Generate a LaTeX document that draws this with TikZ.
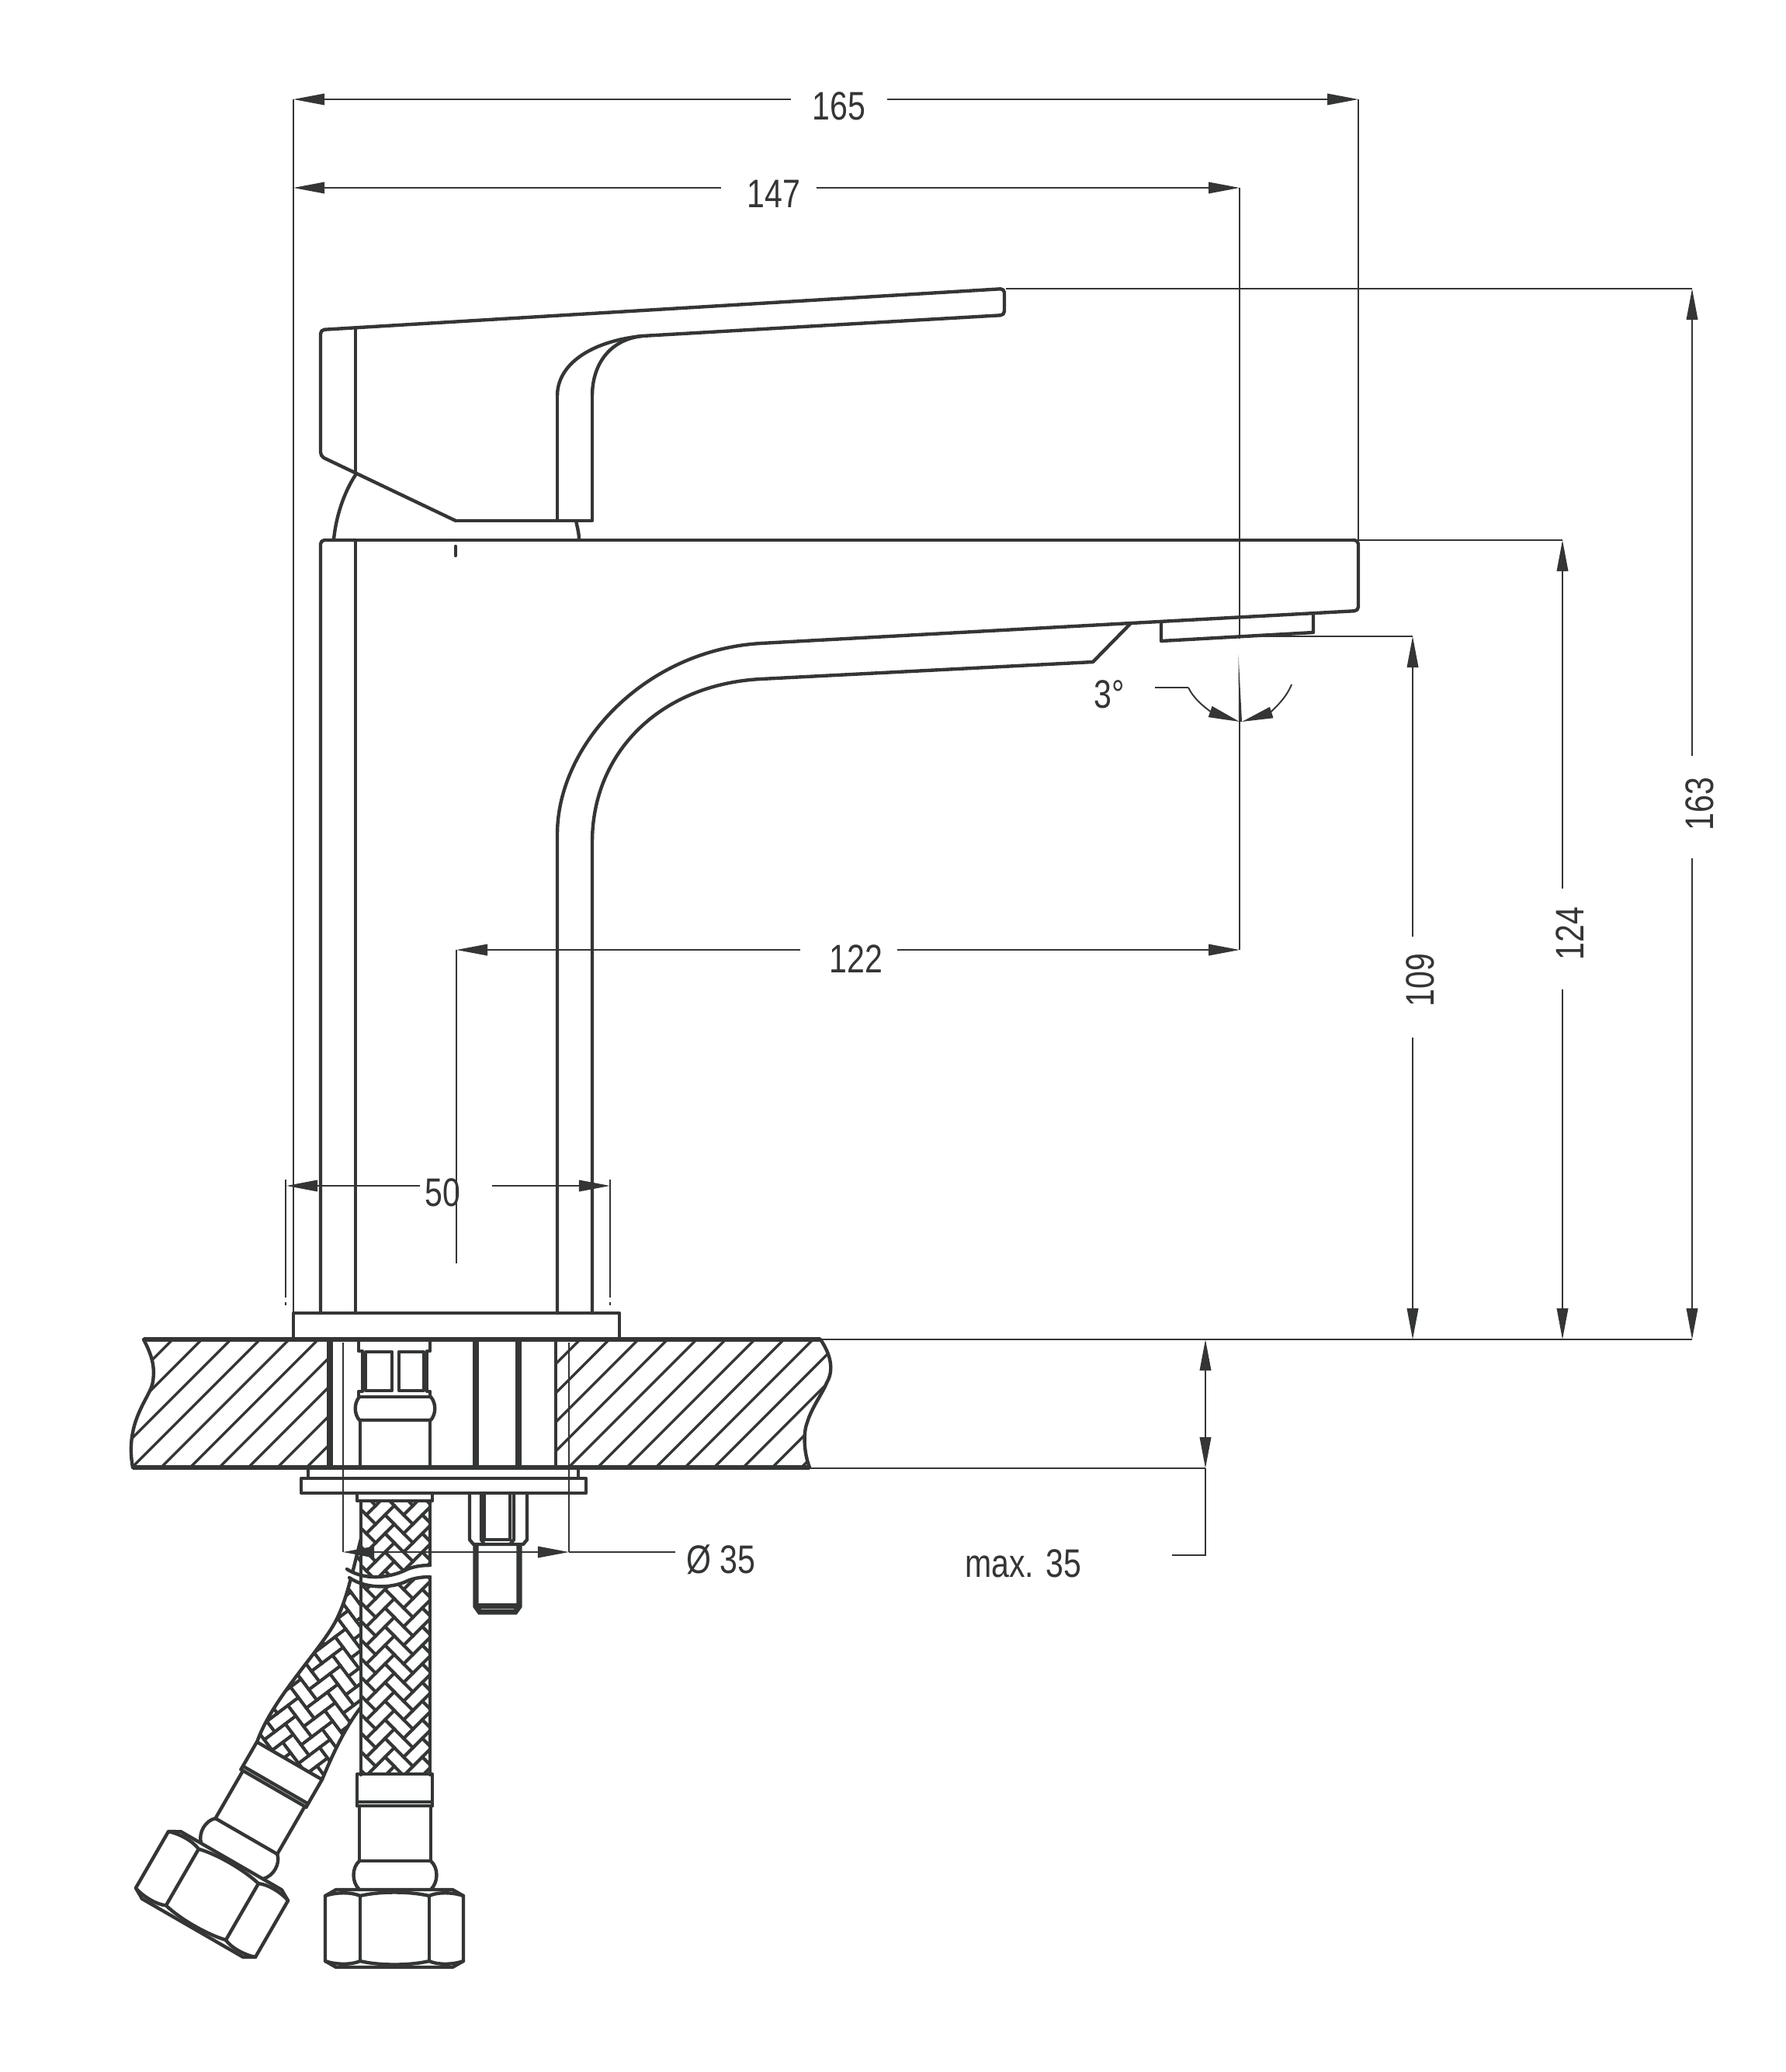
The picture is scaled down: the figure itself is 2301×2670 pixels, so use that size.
\documentclass[tikz,border=0pt]{standalone}
\usepackage{fontspec}
\setmainfont[FakeStretch=0.8]{Liberation Sans}
\usepackage{tikz}
\usetikzlibrary{arrows.meta}
\definecolor{ink}{HTML}{333635}
\tikzset{
  dimtip/.tip={Triangle[length=4mm,width=1.45mm]},
  bodyline/.style={line width=1.25pt,line join=round,line cap=round},
  heavyline/.style={line width=1.6pt,line join=round},
  studline/.style={line width=2pt},
  hatchline/.style={line width=0.95pt},
  braidline/.style={line width=1.1pt},
  dimline/.style={line width=0.55pt},
  dimlabel/.style={font=\fontsize{14.6}{16}\selectfont,inner xsep=0.27cm,inner ysep=0pt}
}
\newcommand{\hosebraid}[2]{
  \foreach \i in {-3,...,3}
    \foreach \j in {-10,...,10}{
      \draw[braidline,shift={({#1+48*\i},{#2+24*\j})},rotate=45] (-17,-8.5) rectangle (17,8.5);
      \draw[braidline,shift={({#1+48*\i+24},{#2+24*\j-12})},rotate=-45] (-17,-8.5) rectangle (17,8.5);
    }
}
\newcommand{\hosefitting}{
  \draw[bodyline] (-48,-199) rectangle (49,-163);
  \draw[bodyline] (-48,-158) -- (49,-158);
  \draw[bodyline] (-48,-163) -- (-48,-158) (49,-163) -- (49,-158);
  \draw[bodyline] (-45,-158) -- (-45,-87) (47,-158) -- (47,-87);
  \draw[bodyline] (-45,-87) -- (47,-87);
  \draw[bodyline] (-45,-87) .. controls (-55,-78) and (-55,-60) .. (-45,-50);
  \draw[bodyline] (47,-87) .. controls (57,-78) and (57,-60) .. (47,-50);
  \draw[bodyline,fill=white] (-89,-42) -- (-75,-50) -- (75,-50) -- (89,-42) -- (89,42) -- (75,50) -- (-75,50) -- (-89,42) -- cycle;
  \draw[bodyline] (-44,-42) -- (-44,42) (45,-42) -- (45,42);
  \draw[bodyline] (-44,-42) .. controls (-20,-48) and (20,-48) .. (45,-42);
  \draw[bodyline] (-44,42) .. controls (-20,48) and (20,48) .. (45,42);
  \draw[bodyline] (-89,-42) .. controls (-75,-47) and (-55,-47) .. (-44,-42);
  \draw[bodyline] (45,-42) .. controls (55,-47) and (75,-47) .. (89,-42);
  \draw[bodyline] (-89,42) .. controls (-75,47) and (-55,47) .. (-44,42);
  \draw[bodyline] (45,42) .. controls (55,47) and (75,47) .. (89,42);
}
\begin{document}
\begin{tikzpicture}[x=0.01cm,y=-0.01cm,color=ink]
\useasboundingbox (0,0) rectangle (2301,2670);

\draw[bodyline,rounded corners=0.05cm] (458,696) -- (413,696) -- (413,1692);
\draw[bodyline] (458,696) -- (1743,696);
\draw[bodyline,rounded corners=0.05cm] (1743,696) -- (1750,696) -- (1750,787) -- (1457,803) -- (980,829);
\draw[bodyline] (980,829) .. controls (830,838) and (718,960) .. (718,1075) -- (718,1692);
\draw[bodyline] (1457,803) -- (1408,853) -- (980,875);
\draw[bodyline] (980,875) .. controls (850,882) and (763,970) .. (763,1085) -- (763,1692);
\draw[bodyline] (458,696) -- (458,1692);
\draw[bodyline] (1496,803) -- (1496,826) -- (1692,815) -- (1692,793);
\draw[bodyline] (587,704) -- (587,716);

\draw[bodyline,rounded corners=0.05cm] (827,433) -- (1294,406) -- (1294,372) -- (413,425) -- (413,588) -- (587,671);
\draw[bodyline] (587,671) -- (763,671) -- (763,510);
\draw[bodyline] (763,510) .. controls (763,470) and (785,438) .. (827,433);
\draw[bodyline] (718,671) -- (718,510);
\draw[bodyline] (718,510) .. controls (718,470) and (760,440) .. (827,433);
\draw[bodyline] (458,423) -- (458,610);
\draw[bodyline] (458,612) .. controls (443,635) and (433,665) .. (430,695);
\draw[bodyline] (742,671) .. controls (744,680) and (746,688) .. (746,695);

\draw[bodyline] (378,1692) rectangle (798,1726);

\begin{scope}
\clip (185,1726) .. controls (195,1745) and (200,1760) .. (197,1780) .. controls (195,1800) and (160,1830) .. (171,1891) -- (423,1891) -- (423,1726) -- cycle
      (716,1726) -- (716,1891) -- (1043,1891) .. controls (1035,1870) and (1035,1845) .. (1040,1833) .. controls (1045,1815) and (1060,1795) .. (1065,1782) .. controls (1075,1765) and (1070,1745) .. (1057,1726) -- cycle;
\foreach \k in {-5,...,25}
  \draw[hatchline] ({170+37.5*\k},1891) -- ({335+37.5*\k},1726);
\end{scope}
\draw[heavyline] (1057,1726) -- (185,1726);
\draw[heavyline] (171,1891) -- (1043,1891);
\draw[bodyline] (185,1726) .. controls (195,1745) and (200,1760) .. (197,1780) .. controls (195,1800) and (160,1830) .. (171,1891);
\draw[bodyline] (1043,1891) .. controls (1035,1870) and (1035,1845) .. (1040,1833) .. controls (1045,1815) and (1060,1795) .. (1065,1782) .. controls (1075,1765) and (1070,1745) .. (1057,1726);
\draw[studline] (425,1726) -- (425,1891);
\draw[bodyline] (716,1726) -- (716,1891);

\draw[bodyline] (462,1726) -- (462,1741) -- (467,1741) -- (467,1793) -- (462,1793) -- (462,1800) -- (554,1800) -- (554,1793) -- (550,1793) -- (550,1741) -- (554,1741) -- (554,1726);
\draw[bodyline] (471,1742) rectangle (505,1792);
\draw[bodyline] (514,1742) rectangle (546,1792);
\draw[bodyline] (463,1800) .. controls (456,1808) and (456,1822) .. (463,1830) -- (555,1830) .. controls (562,1822) and (562,1808) .. (555,1800);
\draw[bodyline] (464,1830) -- (464,1891) (554,1830) -- (554,1891);
\draw[studline] (613,1726) -- (613,1891);
\draw[studline] (668,1726) -- (668,1891);

\draw[bodyline] (397,1891) rectangle (745,1905);
\draw[bodyline] (388,1905) rectangle (755,1924);

\draw[bodyline] (605,1924) -- (605,1984) -- (610,1990) -- (674,1990) -- (679,1984) -- (679,1924);
\draw[bodyline] (620,1924) -- (620,1984) -- (624,1990) (662,1924) -- (662,1984) -- (657,1990);
\draw[bodyline] (624,1924) -- (624,1984) -- (657,1984) -- (657,1924);
\draw[studline] (613,1990) -- (613,2070) -- (618,2077) -- (664,2077) -- (669,2070) -- (669,1990);
\draw[studline] (613,2069) -- (669,2069);

\begin{scope}[shift={(273,2441)},rotate=-30]
\hosefitting
\end{scope}
\begin{scope}[shift={(508,2485)}]
\hosefitting
\end{scope}

\begin{scope}
\clip (331,2245) .. controls (350,2190) and (410,2130) .. (432,2090) .. controls (445,2065) and (450,2040) .. (454,2027) -- (465,1983) -- (465,2200) .. controls (445,2225) and (428,2262) .. (415,2293) -- cycle;
\begin{scope}[rotate around={-8:(420,2150)}]
\hosebraid{420}{2150}
\end{scope}
\end{scope}
\draw[bodyline] (331,2245) .. controls (350,2190) and (410,2130) .. (432,2090) .. controls (445,2065) and (450,2040) .. (454,2027) -- (465,1983);
\draw[bodyline] (465,2200) .. controls (445,2225) and (428,2262) .. (415,2293);

\begin{scope}
\clip (465,1934) rectangle (554,2287);
\hosebraid{490}{2090}
\end{scope}
\fill[white] (447,2022) .. controls (475,2040) and (510,2030) .. (525,2022) .. controls (535,2018) and (545,2017) .. (556,2017) -- (556,2032) .. controls (545,2032) and (535,2033) .. (525,2037) .. controls (510,2045) and (475,2050) .. (450,2033) -- cycle;
\draw[bodyline] (447,2022) .. controls (475,2040) and (510,2030) .. (525,2022) .. controls (535,2018) and (545,2017) .. (554,2017);
\draw[bodyline] (450,2033) .. controls (475,2050) and (510,2045) .. (525,2037) .. controls (535,2033) and (545,2032) .. (554,2032);
\draw[bodyline] (465,1934) -- (465,2287);
\draw[bodyline] (554,1934) -- (554,2017) (554,2032) -- (554,2287);
\draw[bodyline] (460,1924) -- (460,1934) -- (557,1934) -- (557,1924);

\coordinate (topL) at (378,128);
\coordinate (topR) at (1750,128);
\coordinate (midL) at (378,242);
\coordinate (midR) at (1597,242);
\coordinate (spL) at (588,1224);
\coordinate (spR) at (1597,1224);
\coordinate (baseL) at (369,1528);
\coordinate (baseR) at (786,1528);
\coordinate (holeL) at (442,2000);
\coordinate (holeR) at (733,2000);
\coordinate (tipT) at (2180,372);
\coordinate (tipB) at (2180,1726);
\coordinate (bodyT) at (2013,696);
\coordinate (bodyB) at (2013,1726);
\coordinate (jetT) at (1820,820);
\coordinate (jetB) at (1820,1726);
\coordinate (deckT) at (1553,1726);
\coordinate (deckB) at (1553,1892);
\coordinate (deckE) at (1553,2004);
\coordinate (arcS) at (1488,886);
\coordinate (arcM) at (1531,886);

\node[dimlabel] (l165) at (1081,137) {165};
\node[dimlabel,inner xsep=0.195cm] (l147) at (990,250) {\kern0.14cm 147};
\node[dimlabel,inner xsep=0.18cm] (l122) at (1093.5,1236) {\kern0.19cm 122};
\node[dimlabel,inner xsep=0.055cm] (l50) at (587.5,1537) {50\kern0.34cm};
\node[dimlabel,inner xsep=0.14cm] (lhole) at (929,2010) {Ø 35};
\node[dimlabel,rotate=90] (l163) at (2190,1040) {\kern0.08cm 163};
\node[dimlabel,rotate=90,inner xsep=0.23cm] (l124) at (2023,1210) {\kern0.14cm 124};
\node[dimlabel,rotate=90,inner xsep=0.215cm] (l109) at (1830,1272) {\kern0.18cm 109};
\node[dimlabel] (lmax) at (1318,2015) {max. 35};
\node[dimlabel,inner xsep=0pt] (l3) at (1429,895) {3°};

\draw[dimline,-dimtip] (topL -| l165.west) -- (topL);
\draw[dimline,-dimtip] (topL -| l165.east) -- (topR);
\draw[dimline,-dimtip] (midL -| l147.west) -- (midL);
\draw[dimline,-dimtip] (midL -| l147.east) -- (midR);
\draw[dimline,-dimtip] (spL -| l122.west) -- (spL);
\draw[dimline,-dimtip] (spL -| l122.east) -- (spR);
\draw[dimline,-dimtip] (baseL -| l50.west) -- (baseL);
\draw[dimline,-dimtip] (baseL -| l50.east) -- (baseR);
\draw[dimline,dimtip-dimtip] (holeL) -- (holeR);
\draw[dimline] (holeR) -- (holeR -| lhole.west);
\draw[dimline,-dimtip] (tipT |- l163.east) -- (tipT);
\draw[dimline,-dimtip] (tipT |- l163.west) -- (tipB);
\draw[dimline,-dimtip] (bodyT |- l124.east) -- (bodyT);
\draw[dimline,-dimtip] (bodyT |- l124.west) -- (bodyB);
\draw[dimline,-dimtip] (jetT |- l109.east) -- (jetT);
\draw[dimline,-dimtip] (jetT |- l109.west) -- (jetB);
\draw[dimline,dimtip-dimtip] (deckT) -- (deckB);
\draw[dimline] (deckB) -- (deckE) -- (1510,2004);

\draw[dimline] (topL) -- (378,1692);
\draw[dimline] (topR) -- (1750,696);
\draw[dimline] (midR) -- (1597,823);
\draw[dimline] (1597,930) -- (spR);
\draw[dimline] (spL) -- (588,1628);
\draw[dimline] (1296,372) -- (tipT);
\draw[dimline] (1750,696) -- (bodyT);
\draw[dimline] (1597,820) -- (jetT);
\draw[dimline] (1057,1726) -- (tipB);
\draw[dimline] (1043,1892) -- (deckB);
\draw[dimline] (368,1520) -- (368,1672) (368,1678) -- (368,1682);
\draw[dimline] (786,1520) -- (786,1672) (786,1678) -- (786,1682);
\draw[dimline] (442,1730) -- (holeL);
\draw[dimline] (733,1730) -- (holeR);
\fill (1595.5,843) -- (1596,930) -- (1600,930) -- cycle;
\draw[dimline] (arcS) -- (arcM);
\draw[dimline,-dimtip] (arcM) .. controls (1540,905) and (1562,918) .. (1597,930);
\draw[dimline,-dimtip] (1664,882) .. controls (1655,905) and (1632,920) .. (1600,930);
\end{tikzpicture}
\end{document}
